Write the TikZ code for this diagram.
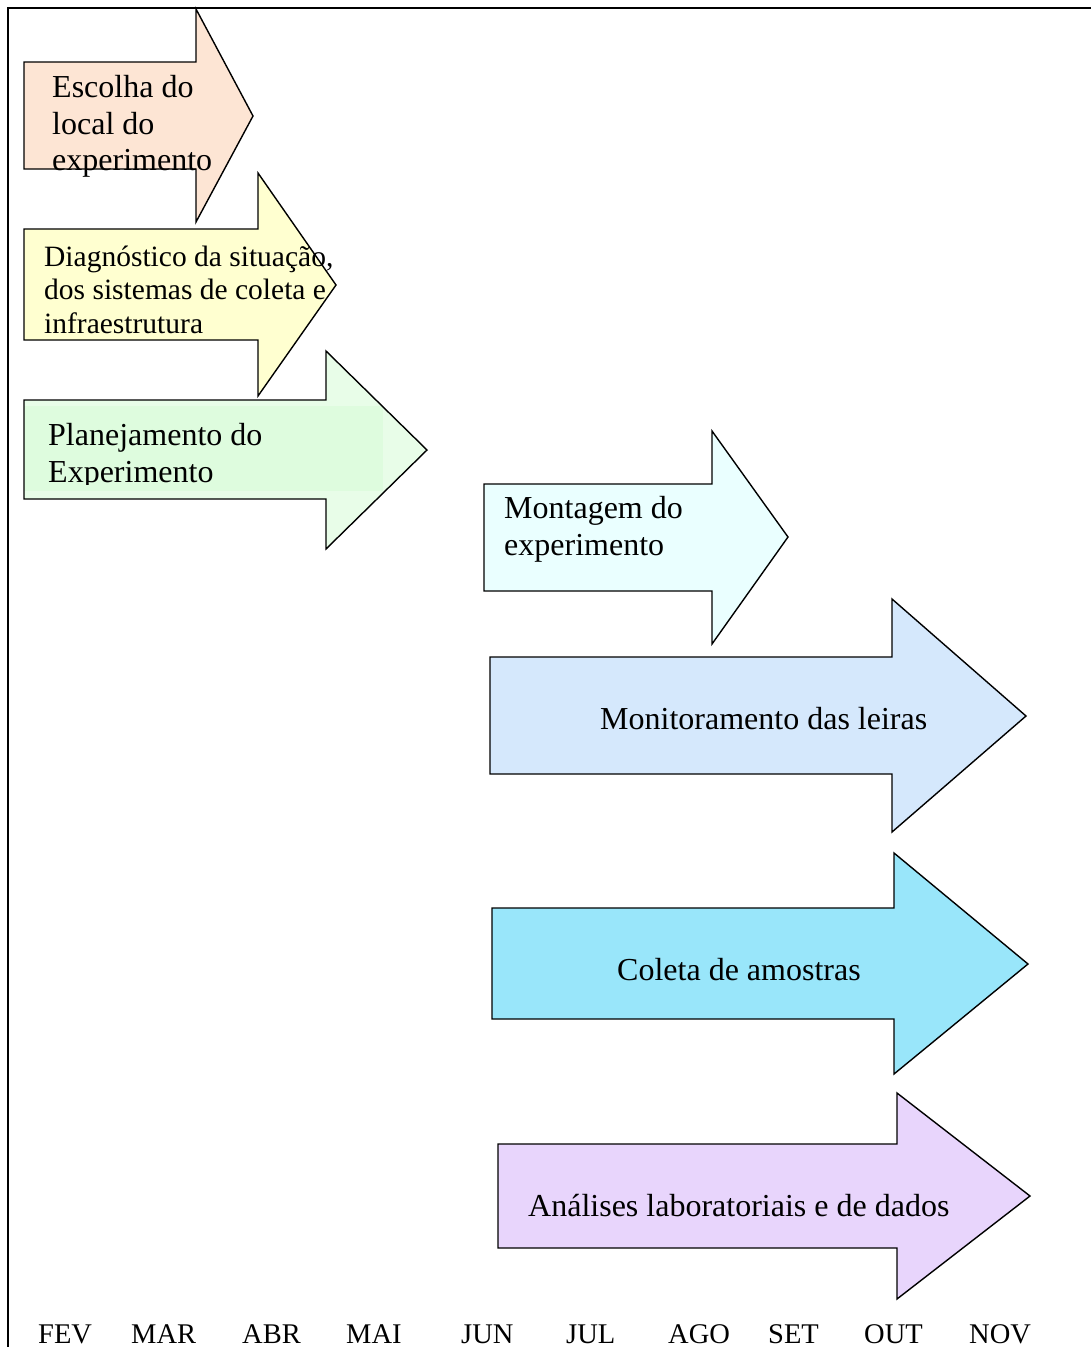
\documentclass[tikz,border=0pt]{standalone}
\usepackage{fontspec}
\setmainfont{Liberation Serif}
\definecolor{cA}{RGB}{253,229,212}
\definecolor{cB}{RGB}{255,255,208}
\definecolor{cC}{RGB}{232,253,232}
\definecolor{cCi}{RGB}{222,252,222}
\definecolor{cD}{RGB}{234,255,255}
\definecolor{cE}{RGB}{213,232,252}
\definecolor{cF}{RGB}{153,230,250}
\definecolor{cG}{RGB}{232,213,252}
\tikzset{
  arr/.style={draw=black, line width=1.4pt, line join=miter},
  lbl/.style={anchor=base west, inner sep=0pt, font=\fontsize{32}{37}\selectfont},
  lbls/.style={anchor=base west, inner sep=0pt, font=\fontsize{29.5}{34}\selectfont},
  mon/.style={anchor=base west, inner sep=0pt, font=\fontsize{28.5}{34}\selectfont},
}
\begin{document}
\begin{tikzpicture}[x=1pt,y=-1pt]
\useasboundingbox (0,0) rectangle (1091,1347);
% frame
\draw[line width=1.8pt] (8,1347) -- (8,8) -- (1091,8);
% arrow 1
\draw[arr, fill=cA] (24,62) -- (196,62) -- (196,9) -- (253,116) -- (196,222) -- (196,169) -- (24,169) -- cycle;
% arrow 2
\draw[arr, fill=cB] (24,229) -- (258,229) -- (258,173) -- (336,285) -- (258,396) -- (258,340) -- (24,340) -- cycle;
% arrow 3 (fill, inner text-box shade, then outline)
\fill[cC] (24,400) -- (326,400) -- (326,351) -- (427,450) -- (326,549) -- (326,499) -- (24,499) -- cycle;
\fill[cCi] (24,406) rectangle (383,491);
\draw[arr] (24,400) -- (326,400) -- (326,351) -- (427,450) -- (326,549) -- (326,499) -- (24,499) -- cycle;
% arrow 4
\draw[arr, fill=cD] (484,484) -- (712,484) -- (712,431) -- (788,537) -- (712,644) -- (712,591) -- (484,591) -- cycle;
% arrow 5
\draw[arr, fill=cE] (490,657) -- (892,657) -- (892,599) -- (1026,716) -- (892,832) -- (892,774) -- (490,774) -- cycle;
% arrow 6
\draw[arr, fill=cF] (492,908) -- (894,908) -- (894,853) -- (1028,964) -- (894,1074) -- (894,1019) -- (492,1019) -- cycle;
% arrow 7
\draw[arr, fill=cG] (498,1144) -- (897,1144) -- (897,1093) -- (1030,1196) -- (897,1299) -- (897,1248) -- (498,1248) -- cycle;

% texts
\node[lbl] (t1a) at (52,97) {Escolha do};
\node[lbl] (t1b) at (52,134) {local do};
\node[lbl] (t1c) at (52,170) {experimento};

\node[lbls] (t2a) at (44,266) {Diagnóstico da situação,};
\node[lbls] (t2b) at (44,299) {dos sistemas de coleta e};
\node[lbls] (t2c) at (44,333) {infraestrutura};

\begin{scope}
\clip (24,406) rectangle (383,484);
\node[lbl] (t3a) at (48,445) {Planejamento do};
\node[lbl] (t3b) at (48,482) {Experimento};
\end{scope}

\node[lbl] (t4a) at (504,518) {Montagem do};
\node[lbl] (t4b) at (504,555) {experimento};

\node[lbl] (t5) at (600,729) {Monitoramento das leiras};
\node[lbl] (t6) at (617,980) {Coleta de amostras};
\node[lbl] (t7) at (528,1216) {Análises laboratoriais e de dados};

% months
\node[mon] (m1) at (38,1343) {FEV};
\node[mon] (m2) at (131,1343) {MAR};
\node[mon] (m3) at (242,1343) {ABR};
\node[mon] (m4) at (346,1343) {MAI};
\node[mon] (m5) at (461,1343) {JUN};
\node[mon] (m6) at (566,1343) {JUL};
\node[mon] (m7) at (668,1343) {AGO};
\node[mon] (m8) at (768,1343) {SET};
\node[mon] (m9) at (864,1343) {OUT};
\node[mon] (m10) at (969,1343) {NOV};
\end{tikzpicture}
\end{document}
